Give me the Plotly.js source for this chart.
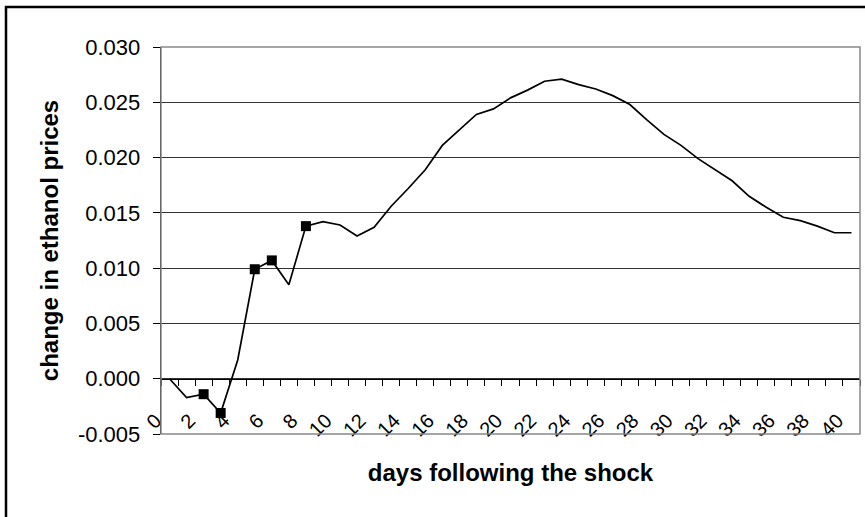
<!DOCTYPE html>
<html>
<head>
<meta charset="utf-8">
<script src="https://cdn.plot.ly/plotly-3.0.1.min.js"></script>
<style>html,body{margin:0;padding:0;background:#fff;}#chart{width:865px;height:517px;}</style>
</head>
<body>
<div id="chart"></div>
<script>
// days following the shock (categories)
const days = [0,1,2,3,4,5,6,7,8,9,10,11,12,13,14,15,16,17,18,19,20,21,22,23,24,25,26,27,28,29,30,31,32,33,34,35,36,37,38,39,40];
// change in ethanol prices
const priceChange = [0.0000,-0.0017,-0.0014,-0.0031,0.0017,0.0099,0.0107,0.0085,0.0138,0.0142,0.0139,0.0129,0.0137,0.0156,0.0172,0.0189,0.0211,0.0225,0.0239,0.0244,0.0254,0.0261,0.0269,0.0271,0.0266,0.0262,0.0256,0.0248,0.0234,0.0221,0.0211,0.0199,0.0189,0.0179,0.0165,0.0155,0.0146,0.0143,0.0138,0.0132,0.0132];
// days marked with a square
const markedDays = [2,3,5,6,8];
const markedValues = markedDays.map(d => priceChange[days.indexOf(d)]);
const xTickVals = [0,2,4,6,8,10,12,14,16,18,20,22,24,26,28,30,32,34,36,38,40];
const xTickText = xTickVals.map(String);
const yTickVals = [-0.005,0,0.005,0.010,0.015,0.020,0.025,0.030];
const yTickText = ['-0.005','0.000','0.005','0.010','0.015','0.020','0.025','0.030'];

const font = 'Liberation Sans, Arial, sans-serif';

const traces = [
  {x: days, y: priceChange, type: 'scatter', mode: 'lines',
   line: {color: '#000', width: 1.7}, hoverinfo: 'skip', showlegend: false},
  {x: markedDays, y: markedValues, type: 'scatter', mode: 'markers',
   marker: {symbol: 'square', size: 10, color: '#000'}, showlegend: false}
];

const layout = {
  width: 865, height: 517,
  margin: {l: 161, r: 5, t: 47, b: 83},
  paper_bgcolor: '#fff', plot_bgcolor: '#fff',
  font: {family: font, color: '#000'},
  showlegend: false,
  xaxis: {
    range: [-0.5, 40.5], anchor: 'free', position: 1/7,
    tickmode: 'array', tickvals: xTickVals, ticktext: xTickText,
    tickangle: -45, ticks: 'outside', ticklen: 6, tickcolor: 'rgba(0,0,0,0)',
    ticklabelshift: -14, ticklabelstandoff: 15,
    tickfont: {size: 20, family: font, color: '#000'},
    minor: {tick0: 0.5, dtick: 1, ticks: 'outside', ticklen: 6, tickcolor: '#000', tickwidth: 1, showgrid: false},
    showline: true, linecolor: '#000', linewidth: 1.3,
    showgrid: false, zeroline: false,
    title: {text: 'days following the shock', font: {size: 24, family: font, color: '#000', weight: 'bold'}, standoff: 24}
  },
  yaxis: {
    range: [-0.005, 0.030], tickmode: 'array', tickvals: yTickVals, ticktext: yTickText,
    ticks: 'outside', ticklen: 7, tickcolor: '#000',
    ticklabelstandoff: 8,
    tickfont: {size: 22, family: font, color: '#000'},
    showline: true, linecolor: '#000', linewidth: 1.3,
    showgrid: true, gridcolor: '#333', gridwidth: 1,
    zeroline: false,
    title: {text: 'change in ethanol prices', font: {size: 24, family: font, color: '#000', weight: 'bold'}, standoff: 12}
  },
  shapes: [
    {type: 'rect', xref: 'paper', yref: 'paper', x0: 0, x1: 1, y0: 0, y1: 1,
     line: {color: '#888', width: 1.5}, layer: 'above'},
    {type: 'rect', xref: 'paper', yref: 'paper', x0: (6-161)/699, x1: (875-161)/699, y0: (434-530)/387, y1: (434-7)/387,
     line: {color: '#000', width: 2.5}, layer: 'above'}
  ]
};

Plotly.newPlot('chart', traces, layout, {displayModeBar: false, staticPlot: true});
</script>
</body>
</html>
